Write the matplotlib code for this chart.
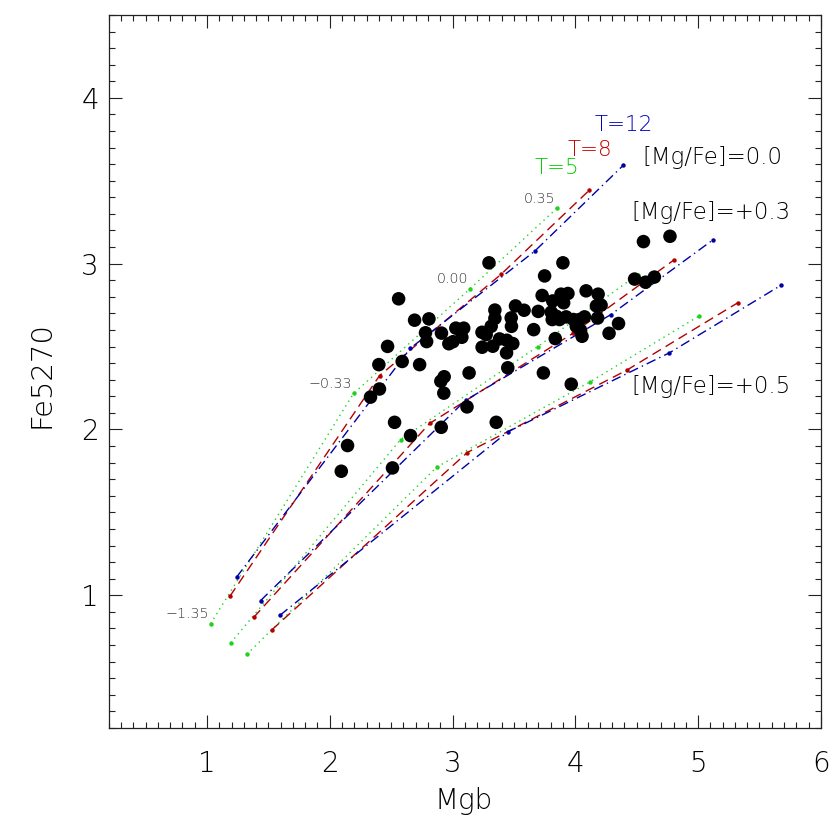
import matplotlib
matplotlib.use("Agg")
import matplotlib.pyplot as plt
from matplotlib.ticker import MultipleLocator

plt.rcParams['font.family'] = ['DejaVu Sans']
plt.rcParams['font.weight'] = 'light'
plt.rcParams['axes.labelweight'] = 'light'

# model grid: metallicity steps along each line
zh_labels = ['\u22121.35', '\u22120.33', '0.00', '0.35']
ages = ['T=5', 'T=8', 'T=12']

# rows = T=5, T=8, T=12 ; columns = [Z/H] -1.35, -0.33, 0.00, 0.35
mgb_mgfe00 = [[1.030, 2.194, 3.142, 3.851],
              [1.187, 2.406, 3.396, 4.114],
              [1.241, 2.657, 3.669, 4.392]]
fe_mgfe00 = [[0.829, 2.217, 2.848, 3.335],
             [0.994, 2.325, 2.936, 3.443],
             [1.109, 2.490, 3.075, 3.594]]

mgb_mgfe03 = [[1.194, 2.577, 3.694, 4.508],
              [1.380, 2.813, 3.979, 4.801],
              [1.437, 3.106, 4.290, 5.124]]
fe_mgfe03 = [[0.713, 1.939, 2.500, 2.934],
             [0.866, 2.036, 2.579, 3.021],
             [0.968, 2.176, 2.693, 3.145]]

mgb_mgfe05 = [[1.325, 2.873, 4.120, 5.005],
              [1.528, 3.120, 4.418, 5.323],
              [1.594, 3.451, 4.766, 5.676]]
fe_mgfe05 = [[0.644, 1.774, 2.287, 2.683],
             [0.791, 1.861, 2.357, 2.764],
             [0.879, 1.986, 2.462, 2.870]]

# observed galaxies
mgb_obs = [3.297, 3.899, 3.750, 2.561, 4.555, 4.771, 4.483, 4.572, 4.644, 3.730,
           3.816, 3.884, 3.940, 3.905, 4.088, 4.186, 4.172, 4.210, 4.182, 4.275,
           4.352, 4.055, 3.837, 3.698, 3.661, 3.804, 3.845, 3.812, 3.871, 3.925,
           3.985, 4.034, 4.075, 4.008, 4.043, 3.513, 3.583, 3.345, 3.345, 3.315,
           3.274, 3.241, 3.328, 3.383, 3.442, 3.491, 3.440, 3.478, 3.480, 3.240,
           2.691, 2.808, 2.780, 2.789, 2.910, 3.027, 3.091, 2.970, 3.003, 3.076,
           2.471, 2.400, 2.590, 2.732, 2.405, 2.332, 2.932, 2.905, 2.929, 3.135,
           3.450, 3.740, 3.967, 3.118, 2.528, 2.908, 3.356, 2.658, 2.145, 2.094,
           2.511]
fe_obs = [3.005, 3.005, 2.926, 2.788, 3.133, 3.165, 2.907, 2.888, 2.919, 2.808,
          2.775, 2.816, 2.820, 2.764, 2.836, 2.816, 2.745, 2.750, 2.672, 2.580,
          2.639, 2.562, 2.548, 2.712, 2.602, 2.707, 2.683, 2.663, 2.663, 2.679,
          2.663, 2.663, 2.679, 2.622, 2.598, 2.745, 2.719, 2.720, 2.670, 2.622,
          2.572, 2.496, 2.502, 2.546, 2.538, 2.518, 2.462, 2.673, 2.622, 2.586,
          2.659, 2.667, 2.583, 2.530, 2.581, 2.611, 2.611, 2.517, 2.529, 2.556,
          2.501, 2.391, 2.410, 2.391, 2.244, 2.195, 2.318, 2.291, 2.219, 2.341,
          2.372, 2.341, 2.273, 2.136, 2.043, 2.013, 2.043, 1.963, 1.903, 1.748,
          1.768]

colors = ['#1ed21e', '#b40000', '#0000a8']
styles = [(0, (1, 3)), (0, (7, 4)), (0, (7, 3, 1, 3))]
text_colors = ['#00d000', '#c80000', '#0000c0']

fig = plt.figure(figsize=(8.3, 8.3), dpi=100)
ax = fig.add_axes([0.131, 0.123, 0.858, 0.859])

for mgb_set, fe_set in [(mgb_mgfe00, fe_mgfe00), (mgb_mgfe03, fe_mgfe03), (mgb_mgfe05, fe_mgfe05)]:
    for k in range(3):
        ax.plot(mgb_set[k], fe_set[k], color=colors[k], linestyle=styles[k],
                linewidth=1.0, marker='o', markersize=3.2, markeredgewidth=0)

ax.scatter(mgb_obs, fe_obs, s=95, color='black', edgecolors='none', zorder=5)

# metallicity labels on the T=5, [Mg/Fe]=0.0 line
for i, lab in enumerate(zh_labels):
    ax.text(mgb_mgfe00[0][i] - 0.01, fe_mgfe00[0][i] + 0.057, lab,
            fontsize=10.3, color='#333333', ha='right', va='center')

ax.text(3.667, 3.577, ages[0], color=text_colors[0], fontsize=15.5, va='center')
ax.text(3.935, 3.685, ages[1], color=text_colors[1], fontsize=15.5, va='center')
ax.text(4.155, 3.839, ages[2], color=text_colors[2], fontsize=15.5, va='center')

ax.text(4.545, 3.643, '[Mg/Fe]=0.0', fontsize=16.5, color='black', va='center')
ax.text(4.46, 3.308, '[Mg/Fe]=+0.3', fontsize=16.5, color='black', va='center')
ax.text(4.46, 2.262, '[Mg/Fe]=+0.5', fontsize=16.5, color='black', va='center')

ax.set_xlim(0.2, 6.0)
ax.set_ylim(0.2, 4.5)
ax.xaxis.set_major_locator(MultipleLocator(1))
ax.xaxis.set_minor_locator(MultipleLocator(0.1))
ax.yaxis.set_major_locator(MultipleLocator(1))
ax.yaxis.set_minor_locator(MultipleLocator(0.1))
ax.tick_params(which='both', direction='in', top=True, right=True, width=0.8,
               color='#222222', labelcolor='black')
ax.tick_params(which='major', length=9.5, labelsize=20)
ax.tick_params(axis='x', which='major', pad=16)
ax.tick_params(axis='y', which='major', pad=7)
ax.tick_params(which='minor', length=4.5)
for sp in ax.spines.values():
    sp.set_linewidth(0.9)
    sp.set_color('#222222')

ax.set_xlabel('Mgb', fontsize=20, color='black', va='center')
ax.set_ylabel('Fe5270', fontsize=21, color='black', va='center')
ax.xaxis.set_label_coords(0.499, -0.103)
ax.yaxis.set_label_coords(-0.094, 0.495)

fig.savefig('out.png', dpi=100)
